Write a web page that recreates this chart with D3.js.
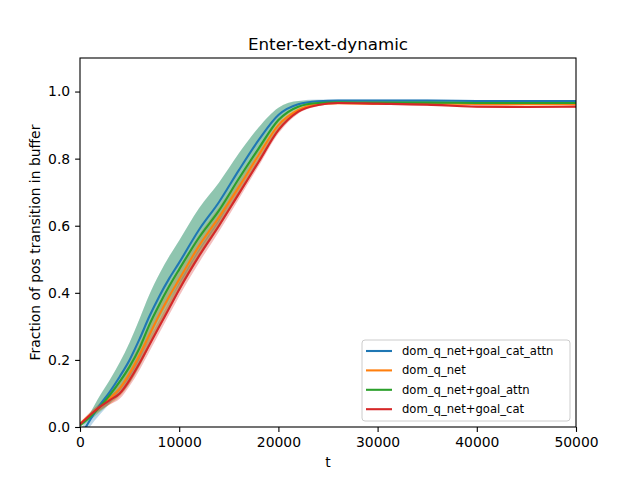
<!DOCTYPE html>
<html>
<head>
<meta charset="utf-8">
<script src="https://cdn.jsdelivr.net/npm/d3@7"></script>
<style>
body { margin: 0; background: #fff; }
text { font-family: "DejaVu Sans", sans-serif; fill: #000; }
</style>
</head>
<body>
<svg width="640" height="480"></svg>
<script>
// training steps
var steps = [0, 1000, 2000, 3000, 4000, 5000, 6000, 7000, 8000, 9000, 10000, 12000, 14000,
             16000, 18000, 20000, 22000, 24000, 26000, 30000, 35000, 40000, 45000, 50000];

var seriesNames = ["dom_q_net+goal_cat_attn", "dom_q_net", "dom_q_net+goal_attn", "dom_q_net+goal_cat"];

var catAttnMean = [-0.03, 0.02, 0.065, 0.105, 0.15, 0.2, 0.262, 0.33, 0.39, 0.443, 0.49, 0.588, 0.67,
                   0.765, 0.855, 0.93, 0.962, 0.971, 0.973, 0.973, 0.973, 0.972, 0.972, 0.972];
var catAttnStd = [0.02, 0.02, 0.028, 0.035, 0.042, 0.052, 0.06, 0.065, 0.066, 0.066, 0.066, 0.064, 0.058,
                  0.05, 0.038, 0.022, 0.01, 0.005, 0.003, 0.003, 0.003, 0.003, 0.003, 0.003];

var plainMean = [0.01, 0.035, 0.06, 0.085, 0.115, 0.16, 0.215, 0.275, 0.335, 0.39, 0.44, 0.54, 0.625,
                 0.715, 0.81, 0.9, 0.945, 0.962, 0.965, 0.964, 0.964, 0.963, 0.962, 0.962];
var plainStd = [0.005, 0.008, 0.012, 0.018, 0.024, 0.03, 0.033, 0.035, 0.035, 0.035, 0.035, 0.033, 0.03,
                0.027, 0.022, 0.015, 0.008, 0.004, 0.003, 0.003, 0.003, 0.003, 0.003, 0.003];

var attnMean = [0.005, 0.03, 0.06, 0.095, 0.135, 0.18, 0.235, 0.305, 0.365, 0.42, 0.47, 0.565, 0.645,
                0.74, 0.83, 0.915, 0.955, 0.966, 0.968, 0.967, 0.967, 0.966, 0.966, 0.966];
// goal_attn spread is lopsided: wide above, narrow below
var attnUp = [0.005, 0.012, 0.033, 0.045, 0.057, 0.072, 0.087, 0.09, 0.091, 0.089, 0.086, 0.087, 0.083,
              0.075, 0.063, 0.037, 0.017, 0.008, 0.006, 0.006, 0.006, 0.006, 0.006, 0.006];
var attnDown = [0.005, 0.01, 0.015, 0.025, 0.04, 0.05, 0.055, 0.065, 0.07, 0.07, 0.066, 0.062, 0.052,
                0.05, 0.045, 0.035, 0.018, 0.006, 0.003, 0.003, 0.003, 0.003, 0.003, 0.003];

var catMean = [0.008, 0.035, 0.06, 0.08, 0.1, 0.14, 0.19, 0.245, 0.3, 0.355, 0.41, 0.51, 0.6,
               0.695, 0.79, 0.885, 0.94, 0.96, 0.966, 0.964, 0.961, 0.955, 0.954, 0.955];
var catStd = [0.005, 0.008, 0.01, 0.013, 0.016, 0.018, 0.02, 0.02, 0.02, 0.02, 0.02, 0.02, 0.018,
              0.016, 0.013, 0.01, 0.006, 0.004, 0.003, 0.003, 0.003, 0.003, 0.003, 0.003];

var xTicks = [0, 10000, 20000, 30000, 40000, 50000];
var yTicks = [0, 0.2, 0.4, 0.6, 0.8, 1.0];

var colors = ["#1f77b4", "#ff7f0e", "#2ca02c", "#d62728"];
var means = [catAttnMean, plainMean, attnMean, catMean];
var ups = [catAttnStd, plainStd, attnUp, catStd];
var downs = [catAttnStd, plainStd, attnDown, catStd];

var svg = d3.select("svg"),
    axLeft = 80, axRight = 576, axTop = 58, axBottom = 427,
    width = axRight - axLeft,
    height = axBottom - axTop;

var xScale = d3.scaleLinear().domain([0, 50000]).range([0, width]),
    yScale = d3.scaleLinear().domain([0, 1.1]).range([height, 0]);

var g = svg.append("g").attr("transform", "translate(" + axLeft + "," + axTop + ")");

g.append("clipPath").attr("id", "clip")
 .append("rect").attr("width", width).attr("height", height);

var plot = g.append("g").attr("clip-path", "url(#clip)");

var series = seriesNames.map(function(name, i) {
    return {
        name: name,
        color: colors[i],
        values: steps.map(function(t, j) {
            return { t: t, m: means[i][j], lo: means[i][j] - downs[i][j], hi: means[i][j] + ups[i][j] };
        })
    };
});

var band = d3.area()
    .x(function(d) { return xScale(d.t); })
    .y0(function(d) { return yScale(d.lo); })
    .y1(function(d) { return yScale(d.hi); })
    .curve(d3.curveMonotoneX);

var line = d3.line()
    .x(function(d) { return xScale(d.t); })
    .y(function(d) { return yScale(d.m); })
    .curve(d3.curveMonotoneX);

plot.selectAll(".band")
    .data(series)
    .enter().append("path")
    .attr("class", "band")
    .attr("d", function(d) { return band(d.values); })
    .attr("fill", function(d) { return d.color; })
    .attr("fill-opacity", 0.3);

plot.selectAll(".line")
    .data(series)
    .enter().append("path")
    .attr("class", "line")
    .attr("d", function(d) { return line(d.values); })
    .attr("fill", "none")
    .attr("stroke", function(d) { return d.color; })
    .attr("stroke-width", 2.1);

// axes
var xAxis = g.append("g")
    .attr("transform", "translate(0," + height + ")")
    .call(d3.axisBottom(xScale).tickValues(xTicks).tickFormat(d3.format("d")).tickSize(4.9).tickPadding(4.9));

var yAxis = g.append("g")
    .call(d3.axisLeft(yScale).tickValues(yTicks).tickFormat(d3.format(".1f")).tickSize(4.9).tickPadding(4.9));

[xAxis, yAxis].forEach(function(a) {
    a.select(".domain").remove();
    a.selectAll("line").attr("stroke", "#000").attr("stroke-width", 1.1);
    a.selectAll("text").attr("font-size", "13.9px").attr("font-family", "DejaVu Sans").attr("fill", "#000");
});

g.append("rect")
    .attr("width", width)
    .attr("height", height)
    .attr("fill", "none")
    .attr("stroke", "#000")
    .attr("stroke-width", 1.1);

svg.append("text")
    .attr("x", axLeft + width / 2)
    .attr("y", 50)
    .attr("text-anchor", "middle")
    .attr("font-size", "16.7px")
    .text("Enter-text-dynamic");

svg.append("text")
    .attr("x", axLeft + width / 2)
    .attr("y", 467)
    .attr("text-anchor", "middle")
    .attr("font-size", "13.9px")
    .text("t");

svg.append("text")
    .attr("transform", "translate(40," + (axTop + height / 2) + ") rotate(-90)")
    .attr("text-anchor", "middle")
    .attr("font-size", "13.9px")
    .text("Fraction of pos transition in buffer");

// legend
var legend = svg.append("g").attr("transform", "translate(362,340)");

legend.append("rect")
    .attr("width", 208)
    .attr("height", 81)
    .attr("rx", 3)
    .attr("fill", "#fff")
    .attr("fill-opacity", 0.8)
    .attr("stroke", "#cccccc")
    .attr("stroke-width", 1);

var rows = legend.selectAll(".row")
    .data(series)
    .enter().append("g")
    .attr("class", "row")
    .attr("transform", function(d, i) { return "translate(0," + (11 + i * 19.4) + ")"; });

rows.append("line")
    .attr("x1", 4).attr("x2", 30)
    .attr("stroke", function(d) { return d.color; })
    .attr("stroke-width", 2.1);

rows.append("text")
    .attr("x", 40)
    .attr("dy", "0.35em")
    .attr("font-size", "11.6px")
    .text(function(d) { return d.name; });
</script>
</body>
</html>
